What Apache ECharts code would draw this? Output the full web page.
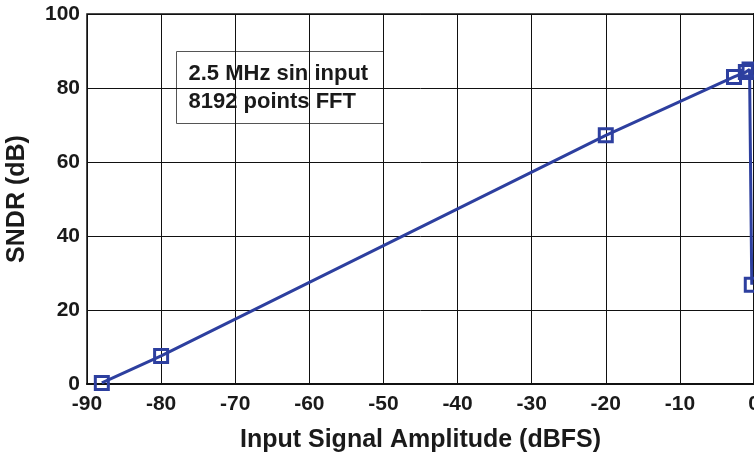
<!DOCTYPE html>
<html>
<head>
<meta charset="utf-8">
<script src="https://cdn.jsdelivr.net/npm/echarts@6/dist/echarts.min.js"></script>
<style>
  html, body { margin: 0; padding: 0; background: #fff; }
  #chart { width: 754px; height: 457px; }
</style>
</head>
<body>
<div id="chart"></div>
<script>
// Input amplitude (dBFS) and measured SNDR (dB)
const amplitude = [-88, -80, -20, -2.7, -1.1, -0.6, -0.3];
const sndr = [0.3, 7.6, 67.2, 83.0, 84.3, 85.0, 26.8];

const xTicks = { min: -90, max: 0, interval: 10 };
const yTicks = { min: 0, max: 100, interval: 20 };

const noteLines = ['2.5 MHz sin input', '8192 points FFT'];

const font = 'Liberation Sans, Arial, Helvetica, sans-serif';
const blue = '#2d3f9f';
const ink = '#1a1a1a';

const chart = echarts.init(document.getElementById('chart'), null, { renderer: 'canvas' });

chart.setOption({
  animation: false,
  backgroundColor: '#fff',
  grid: {
    left: 87, right: 0, top: 14, bottom: 73,
    outerBoundsMode: 'none', containLabel: false,
    show: true, borderColor: '#111', borderWidth: 1.5
  },
  xAxis: {
    type: 'value',
    min: xTicks.min, max: xTicks.max, interval: xTicks.interval,
    name: 'Input Signal Amplitude (dBFS)',
    nameLocation: 'middle', nameGap: 44,
    nameTextStyle: { fontFamily: font, fontWeight: 'bold', fontSize: 25, color: ink },
    axisLine: { show: true, lineStyle: { color: '#111', width: 2 } },
    axisTick: { show: false },
    axisLabel: { fontFamily: font, fontWeight: 'bold', fontSize: 21, color: ink, margin: 10 },
    splitLine: { show: true, lineStyle: { color: '#111', width: 1 } }
  },
  yAxis: {
    type: 'value',
    min: yTicks.min, max: yTicks.max, interval: yTicks.interval,
    name: 'SNDR (dB)',
    nameLocation: 'middle', nameGap: 57,
    nameTextStyle: { fontFamily: font, fontWeight: 'bold', fontSize: 25, color: ink },
    axisLine: { show: true, lineStyle: { color: '#111', width: 2 } },
    axisTick: { show: false },
    axisLabel: { fontFamily: font, fontWeight: 'bold', fontSize: 21, color: ink, margin: 7 },
    splitLine: { show: true, lineStyle: { color: '#111', width: 1 } }
  },
  series: [{
    type: 'line',
    data: amplitude.map((x, i) => [x, sndr[i]]),
    symbol: 'rect',
    symbolSize: 13,
    showAllSymbol: true,
    clip: false,
    lineStyle: { color: blue, width: 3 },
    itemStyle: { color: 'transparent', borderColor: blue, borderWidth: 3 }
  }],
  graphic: [{
    type: 'group',
    left: 176, top: 51,
    children: [
      { type: 'rect', shape: { x: 0, y: 0, width: 207, height: 72 },
        style: { fill: '#fff', stroke: '#555', lineWidth: 1 } },
      { type: 'text', x: 12, y: 8,
        style: { text: noteLines.join('\n'), fontFamily: font, fontWeight: 'bold', fontSize: 22, lineHeight: 28, fill: ink } }
    ]
  }]
});
</script>
</body>
</html>
